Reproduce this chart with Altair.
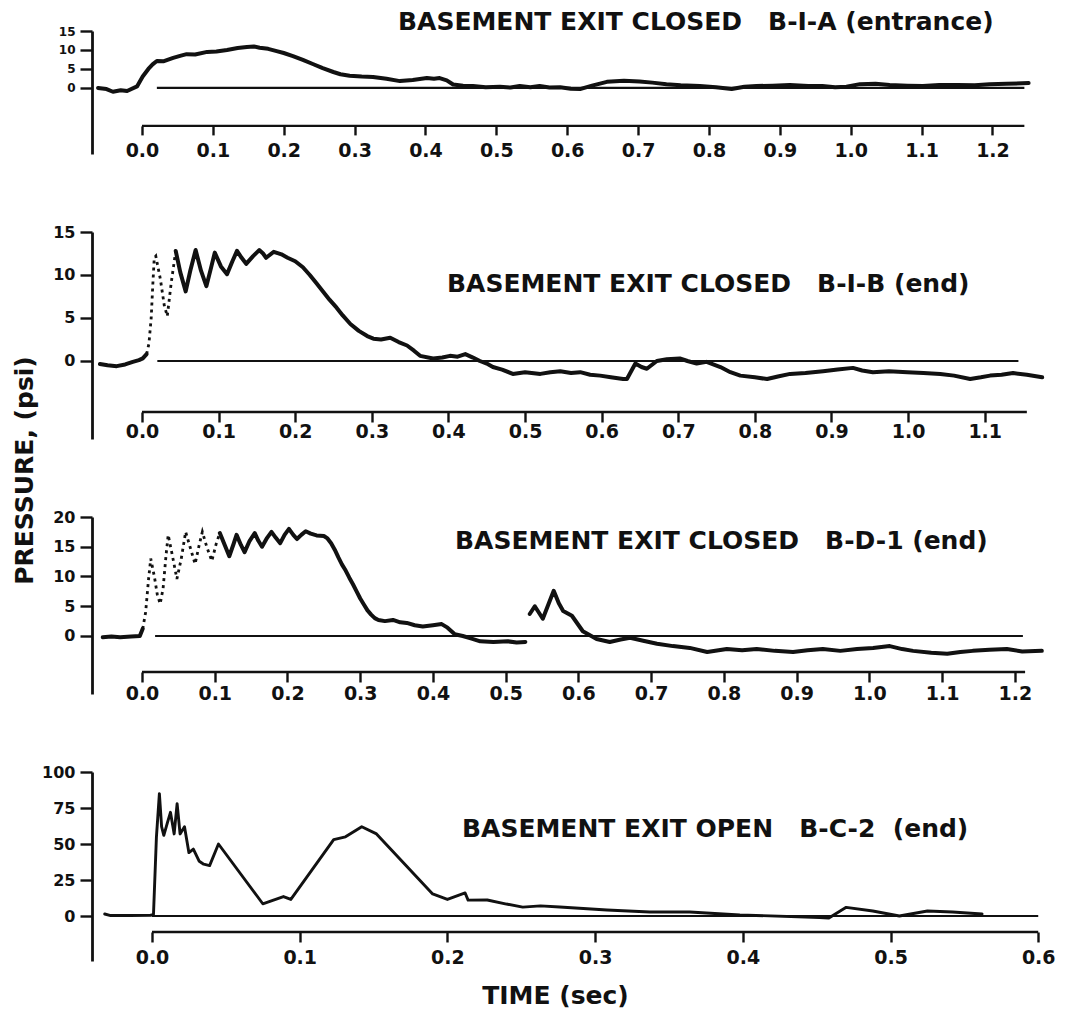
import altair as alt
import pandas as pd

FONT = "DejaVu Sans"
INK = "#111111"
SP = "\u00a0"

# ---------------- data (time s, pressure psi) ----------------
# Panel 1: BASEMENT EXIT CLOSED  B-I-A (entrance)
a_trace = [(-0.062, 0.0), (-0.05, -0.3), (-0.041, -1.0), (-0.03, -0.6), (-0.021, -0.8), (-0.007, 0.4),
           (0.001, 3.0), (0.009, 5.0), (0.015, 6.2), (0.021, 7.1), (0.03, 7.0), (0.044, 7.9), (0.055, 8.5),
           (0.063, 8.9), (0.075, 8.8), (0.092, 9.5), (0.105, 9.6), (0.12, 10.0), (0.135, 10.5), (0.148, 10.8),
           (0.158, 10.9), (0.166, 10.6), (0.178, 10.3), (0.19, 9.7), (0.2, 9.2), (0.213, 8.4), (0.227, 7.4),
           (0.241, 6.3), (0.255, 5.2), (0.27, 4.2), (0.28, 3.6), (0.293, 3.2), (0.31, 3.0), (0.326, 2.9),
           (0.345, 2.4), (0.364, 1.8), (0.382, 2.1), (0.402, 2.6), (0.412, 2.4), (0.42, 2.6), (0.43, 2.0),
           (0.439, 0.9), (0.453, 0.6), (0.467, 0.5), (0.485, 0.2), (0.505, 0.3), (0.52, 0.1), (0.533, 0.5),
           (0.548, 0.2), (0.561, 0.5), (0.575, 0.1), (0.59, 0.2), (0.605, -0.2), (0.618, -0.3), (0.635, 0.6),
           (0.656, 1.6), (0.68, 1.9), (0.702, 1.7), (0.72, 1.4), (0.74, 1.0), (0.76, 0.7), (0.787, 0.5),
           (0.81, 0.2), (0.832, -0.3), (0.85, 0.3), (0.867, 0.5), (0.89, 0.6), (0.914, 0.8), (0.94, 0.5),
           (0.96, 0.5), (0.978, 0.2), (0.994, 0.3), (1.013, 1.0), (1.035, 1.1), (1.055, 0.8), (1.08, 0.6),
           (1.102, 0.5), (1.125, 0.8), (1.15, 0.8), (1.175, 0.7), (1.196, 1.0), (1.22, 1.1), (1.251, 1.3)]

# Panel 2: BASEMENT EXIT CLOSED  B-I-B (end)
b_pre = [(-0.055, -0.35), (-0.045, -0.5), (-0.033, -0.6), (-0.022, -0.4), (-0.012, -0.1), (-0.004, 0.1),
         (0.001, 0.3), (0.006, 0.8)]
b_fast = [(0.006, 0.8), (0.009, 2.0), (0.012, 5.0), (0.014, 8.7), (0.016, 12.0), (0.018, 12.2), (0.024, 9.5),
          (0.029, 6.5), (0.033, 5.2), (0.038, 9.0), (0.044, 12.8)]
b_main = [(0.044, 12.8), (0.05, 10.3), (0.057, 8.1), (0.063, 10.5), (0.07, 12.9), (0.077, 10.5), (0.084, 8.7),
          (0.09, 10.8), (0.095, 12.6), (0.103, 11.0), (0.111, 10.1), (0.118, 11.6), (0.124, 12.8), (0.13, 12.0),
          (0.136, 11.3), (0.145, 12.2), (0.153, 12.9), (0.158, 12.5), (0.162, 12.0), (0.172, 12.7), (0.182, 12.4),
          (0.19, 12.0), (0.2, 11.6), (0.21, 10.9), (0.219, 10.0), (0.228, 9.0), (0.237, 8.0), (0.245, 7.1),
          (0.254, 6.2), (0.262, 5.3), (0.272, 4.3), (0.283, 3.5), (0.294, 2.9), (0.302, 2.6), (0.312, 2.5),
          (0.324, 2.7), (0.335, 2.2), (0.346, 1.8), (0.355, 1.2), (0.363, 0.6), (0.38, 0.3), (0.392, 0.4),
          (0.402, 0.6), (0.412, 0.5), (0.422, 0.8), (0.432, 0.4), (0.441, 0.0), (0.45, -0.3), (0.458, -0.7),
          (0.47, -1.0), (0.484, -1.5), (0.5, -1.3), (0.52, -1.5), (0.533, -1.3), (0.546, -1.2), (0.56, -1.4),
          (0.572, -1.3), (0.585, -1.6), (0.598, -1.7), (0.612, -1.9), (0.628, -2.1), (0.633, -2.1), (0.644, -0.3),
          (0.652, -0.7), (0.659, -0.9), (0.672, 0.0), (0.685, 0.2), (0.702, 0.3), (0.712, 0.0), (0.724, -0.3),
          (0.737, -0.1), (0.755, -0.7), (0.768, -1.3), (0.781, -1.7), (0.8, -1.9), (0.816, -2.1), (0.83, -1.8),
          (0.846, -1.5), (0.866, -1.4), (0.889, -1.2), (0.908, -1.0), (0.928, -0.8), (0.94, -1.1), (0.954, -1.3),
          (0.975, -1.2), (0.999, -1.3), (1.02, -1.4), (1.042, -1.5), (1.06, -1.7), (1.081, -2.1), (1.095, -1.9),
          (1.107, -1.7), (1.122, -1.6), (1.137, -1.4), (1.155, -1.6), (1.175, -1.9)]

# Panel 3: BASEMENT EXIT CLOSED  B-D-1 (end)
d_pre = [(-0.054, -0.2), (-0.042, -0.1), (-0.03, -0.2), (-0.015, -0.1), (-0.003, 0.0), (0.001, 1.2)]
d_fast = [(0.001, 1.2), (0.005, 4.0), (0.009, 9.5), (0.012, 13.0), (0.017, 10.0), (0.021, 7.0), (0.025, 5.4),
          (0.029, 8.0), (0.033, 13.5), (0.036, 17.0), (0.041, 14.0), (0.048, 9.6), (0.054, 13.0), (0.06, 17.5),
          (0.066, 15.0), (0.073, 12.1), (0.079, 15.5), (0.083, 17.5), (0.089, 15.0), (0.096, 12.6), (0.102, 15.5),
          (0.107, 17.3)]
d_main = [(0.107, 17.3), (0.114, 15.2), (0.12, 13.4), (0.126, 15.5), (0.13, 17.0), (0.136, 15.3), (0.141, 14.1),
          (0.148, 16.0), (0.155, 17.3), (0.16, 16.0), (0.165, 15.0), (0.172, 16.5), (0.178, 17.5), (0.184, 16.5),
          (0.19, 15.6), (0.196, 17.0), (0.202, 18.0), (0.208, 17.0), (0.213, 16.3), (0.219, 17.0), (0.225, 17.6),
          (0.232, 17.2), (0.24, 16.9), (0.25, 16.8), (0.255, 16.4), (0.26, 15.6), (0.265, 14.5), (0.27, 13.2),
          (0.275, 12.0), (0.28, 11.0), (0.285, 9.8), (0.29, 8.7), (0.295, 7.5), (0.3, 6.3), (0.305, 5.3),
          (0.31, 4.3), (0.315, 3.6), (0.32, 3.0), (0.325, 2.7), (0.334, 2.5), (0.345, 2.7), (0.355, 2.3),
          (0.364, 2.2), (0.375, 1.8), (0.386, 1.6), (0.4, 1.8), (0.412, 2.0), (0.42, 1.4), (0.43, 0.3),
          (0.441, 0.0), (0.452, -0.4), (0.465, -0.9), (0.483, -1.0), (0.503, -0.9), (0.515, -1.1), (0.527, -1.0)]
d_late = [(0.533, 3.7), (0.54, 5.0), (0.551, 2.9), (0.566, 7.6), (0.573, 5.5), (0.579, 4.2), (0.591, 3.4),
          (0.606, 0.8), (0.625, -0.5), (0.643, -1.0), (0.658, -0.6), (0.671, -0.3), (0.689, -0.8), (0.708, -1.3),
          (0.73, -1.7), (0.753, -2.0), (0.777, -2.7), (0.804, -2.2), (0.825, -2.4), (0.845, -2.2), (0.87, -2.5),
          (0.895, -2.7), (0.915, -2.4), (0.936, -2.2), (0.96, -2.5), (0.983, -2.2), (1.005, -2.0), (1.028, -1.7),
          (1.045, -2.2), (1.06, -2.5), (1.085, -2.8), (1.107, -3.0), (1.125, -2.7), (1.142, -2.5), (1.165, -2.3),
          (1.189, -2.2), (1.21, -2.6), (1.237, -2.5)]

# Panel 4: BASEMENT EXIT OPEN  B-C-2 (end)
c_trace = [(-0.032, 1.4), (-0.028, 0.3), (-0.015, 0.3), (-0.001, 0.5), (0.001, 1.0), (0.003, 55.0), (0.005, 85.0),
           (0.0065, 62.0), (0.008, 56.0), (0.0105, 65.0), (0.0125, 72.0), (0.015, 57.0), (0.017, 78.0),
           (0.019, 57.0), (0.022, 62.0), (0.025, 44.0), (0.028, 46.5), (0.032, 38.0), (0.035, 36.0), (0.039, 35.0),
           (0.045, 50.0), (0.075, 8.5), (0.089, 13.5), (0.094, 11.5), (0.123, 53.0), (0.131, 55.0), (0.142, 62.0),
           (0.152, 57.0), (0.19, 15.3), (0.2, 11.5), (0.212, 16.0), (0.214, 11.0), (0.227, 11.1), (0.24, 8.3),
           (0.251, 6.2), (0.263, 7.0), (0.276, 6.2), (0.308, 4.2), (0.337, 2.8), (0.364, 2.8), (0.398, 0.7),
           (0.452, -1.0), (0.458, -1.5), (0.47, 6.0), (0.488, 3.5), (0.506, 0.0), (0.525, 3.5), (0.542, 2.8),
           (0.562, 1.4)]

titles = ["BASEMENT EXIT CLOSED" + SP * 3 + "B-I-A (entrance)",
          "BASEMENT EXIT CLOSED" + SP * 3 + "B-I-B (end)",
          "BASEMENT EXIT CLOSED" + SP * 3 + "B-D-1 (end)",
          "BASEMENT EXIT OPEN" + SP * 3 + "B-C-2" + SP * 2 + "(end)"]
y_ticks = [[0, 5, 10, 15], [0, 5, 10, 15], [0, 5, 10, 15, 20], [0, 25, 50, 75, 100]]
x_ticks = [[round(0.1 * i, 1) for i in range(13)],
           [round(0.1 * i, 1) for i in range(12)],
           [round(0.1 * i, 1) for i in range(13)],
           [round(0.1 * i, 1) for i in range(7)]]
zero_line = [(0.021, 1.245), (0.02, 1.144), (0.018, 1.211), (0.0, 0.6)]   # t range of the 0-psi reference line
time_axis_end = [1.245, 1.155, 1.214, 0.6]

# ---------------- layout (pixels) ----------------
LEFT_PX = 92
layout = [
    dict(pps=709, zero_px=142, xmax=1.26, ydom=(-17.4, 15), h=123, axis_level=-10.0,
         lab_pad=7, ylab=12, tick=9),
    dict(pps=766, zero_px=142, xmax=1.18, ydom=(-9.07, 15), h=207, axis_level=-5.93,
         lab_pad=1, ylab=16, tick=10),
    dict(pps=727.5, zero_px=142, xmax=1.24, ydom=(-9.75, 20), h=177, axis_level=-6.05,
         lab_pad=3, ylab=16, tick=10),
    dict(pps=1477, zero_px=152, xmax=0.61, ydom=(-31.25, 100), h=189, axis_level=-11.1,
         lab_pad=7, ylab=16, tick=10),
]
title_pos = [(398, 30), (447, 93), (455, 65), (462, 98)]   # (left px, dy)


def frame(pairs, seg):
    return pd.DataFrame({"t": [a for a, _ in pairs], "p": [b for _, b in pairs], "seg": seg})


solid = [
    frame(a_trace, "a"),
    pd.concat([frame(b_pre, "pre"), frame(b_main, "main")]),
    pd.concat([frame(d_pre, "pre"), frame(d_main, "main"), frame(d_late, "late")]),
    frame(c_trace, "c"),
]
dashed = [None, frame(b_fast, "fast"), frame(d_fast, "fast"), None]


def panel(i):
    L = layout[i]
    xmin = (LEFT_PX - L["zero_px"]) / L["pps"]
    xmax = L["xmax"]
    width = round((xmax - xmin) * L["pps"])
    ymin, ymax = L["ydom"]
    H = L["h"]
    xs = alt.Scale(domain=[xmin, xmax], nice=False, zero=False)
    ys = alt.Scale(domain=[ymin, ymax], nice=False, zero=False)
    off = -(L["axis_level"] - ymin) / (ymax - ymin) * H

    xaxis_kw = dict(values=x_ticks[i], format=".1f", domain=False, grid=False, offset=off,
                    tickSize=L["tick"], tickWidth=2.4, tickColor=INK,
                    labelFont=FONT, labelFontSize=19, labelFontWeight="bold", labelColor=INK,
                    labelPadding=L["lab_pad"], labelFlush=False, labelOverlap=False)
    if i == 3:
        xaxis_kw.update(title="TIME (sec)", titleFont=FONT, titleFontSize=25, titleFontWeight="bold",
                        titleColor=INK, titleX=463, titleY=52, titleAnchor="middle")
    else:
        xaxis_kw.update(title=None)
    yaxis_kw = dict(values=y_ticks[i], grid=False, domain=True, domainWidth=2.8, domainColor=INK,
                    tickSize=12, tickWidth=2.4, tickColor=INK, labelFont=FONT, labelFontSize=L["ylab"],
                    labelFontWeight="bold", labelColor=INK, labelPadding=5, labelFlush=False,
                    labelOverlap=False)
    if i == 1:
        yaxis_kw.update(title="PRESSURE," + SP + "(psi)", titleFont=FONT, titleFontSize=25,
                        titleFontWeight="bold", titleColor=INK, titleX=-55, titleY=238, titleAngle=270)
    else:
        yaxis_kw.update(title=None)

    trace = alt.Chart(solid[i]).mark_line(color=INK, strokeWidth=4.0 if i < 3 else 2.9,
                                          strokeJoin="round", strokeCap="round").encode(
        x=alt.X("t:Q", scale=xs, axis=alt.Axis(**xaxis_kw)),
        y=alt.Y("p:Q", scale=ys, axis=alt.Axis(**yaxis_kw)),
        detail="seg:N",
    )
    layers = [trace]
    if dashed[i] is not None:
        layers.append(alt.Chart(dashed[i]).mark_line(color=INK, strokeWidth=2.8, strokeDash=[3, 4]).encode(
            x=alt.X("t:Q", scale=xs),
            y=alt.Y("p:Q", scale=ys),
        ))
    z0, z1 = zero_line[i]
    layers.append(alt.Chart(pd.DataFrame({"t": [z0], "t1": [z1], "p": [0.0]})).mark_rule(
        color=INK, strokeWidth=2.2).encode(
        x=alt.X("t:Q", scale=xs), x2="t1:Q",
        y=alt.Y("p:Q", scale=ys)))
    layers.append(alt.Chart(pd.DataFrame({"t": [0.0], "t1": [time_axis_end[i]],
                                          "p": [L["axis_level"]]})).mark_rule(
        color=INK, strokeWidth=2.4).encode(
        x=alt.X("t:Q", scale=xs), x2="t1:Q",
        y=alt.Y("p:Q", scale=ys)))

    tx, tdy = title_pos[i]
    return alt.layer(*layers).properties(
        width=width, height=H,
        title=alt.TitleParams(text=titles[i], anchor="start", frame="group", orient="top",
                              dx=tx - LEFT_PX, dy=tdy, offset=0, baseline="alphabetic",
                              font=FONT, fontSize=25, fontWeight="bold", color=INK),
    )


chart = alt.vconcat(*[panel(i) for i in range(4)], spacing=78, bounds="flush").properties(
    padding={"left": 4, "top": 2, "right": 5, "bottom": 5}
).configure(background="white").configure_view(stroke=None)

chart.save("out.html", embed_options={"renderer": "svg", "actions": False})
